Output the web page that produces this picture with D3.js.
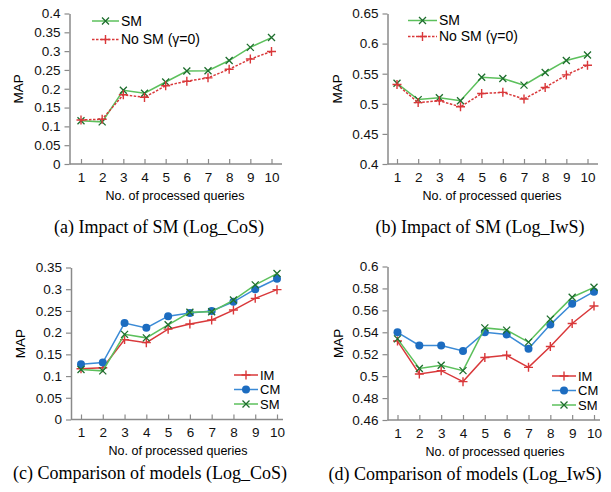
<!DOCTYPE html>
<html lang="en">
  <head>
    <meta charset="UTF-8" />
    <title>MAP vs processed queries</title>
    <script src="https://d3js.org/d3.v7.min.js"></script>
    <style>
      body { margin: 0; background: #fff; }
      .tick text { font-family: "Liberation Sans", Arial, sans-serif; font-size: 13.5px; fill: #111; }
    </style>
  </head>
  <body>
    <div id="chart"></div>
    <script>
      const queries = ["1", "2", "3", "4", "5", "6", "7", "8", "9", "10"];

      // Log_CoS
      const cosSM = [0.115, 0.112, 0.196, 0.188, 0.218, 0.247, 0.248, 0.275, 0.310, 0.336];
      const cosIM = [0.117, 0.119, 0.184, 0.177, 0.208, 0.220, 0.229, 0.252, 0.279, 0.299];
      const cosCM = [0.127, 0.131, 0.222, 0.211, 0.238, 0.245, 0.250, 0.271, 0.300, 0.324];

      // Log_IwS
      const iwsSM = [0.534, 0.507, 0.510, 0.505, 0.544, 0.542, 0.531, 0.552, 0.572, 0.581];
      const iwsIM = [0.532, 0.502, 0.505, 0.495, 0.517, 0.519, 0.508, 0.527, 0.548, 0.564];
      const iwsCM = [0.540, 0.528, 0.528, 0.523, 0.540, 0.538, 0.525, 0.547, 0.566, 0.577];

      const ticksA = [0, 0.05, 0.1, 0.15, 0.2, 0.25, 0.3, 0.35, 0.4];
      const ticksB = [0.4, 0.45, 0.5, 0.55, 0.6, 0.65];
      const ticksC = [0, 0.05, 0.1, 0.15, 0.2, 0.25, 0.3, 0.35];
      const ticksD = [0.46, 0.48, 0.5, 0.52, 0.54, 0.56, 0.58, 0.6];

      const green = "#5cc05c", greenMark = "#1e6e2e";
      const red = "#d9383a";
      const blue = "#3a8ad6", blueMark = "#1c6cc0";
      const sans = "Liberation Sans, Arial, sans-serif";

      const svg = d3.select("#chart").append("svg")
        .attr("width", 611).attr("height", 492);

      function drawPanel(p) {
        const g = svg.append("g");
        const y = d3.scaleLinear().domain([p.ticks[0], p.ticks[p.ticks.length - 1]]).range([p.bottom, p.top]);
        const x = d3.scalePoint().domain(queries).range([p.x1, p.x10]);

        // y axis
        const ya = g.append("g").attr("transform", `translate(${p.axX},0)`)
          .call(d3.axisLeft(y).tickValues(p.ticks).tickSize(5).tickSizeOuter(0).tickPadding(4)
            .tickFormat(d => String(+d.toFixed(2))));
        ya.select(".domain").attr("stroke", "#8a8a8a").attr("stroke-width", 1.5);
        ya.selectAll(".tick line").attr("stroke", "#8a8a8a").attr("stroke-width", 1.2);

        // x axis
        const xa = g.append("g").attr("transform", `translate(0,${p.bottom})`)
          .call(d3.axisBottom(x).tickSize(-5).tickSizeOuter(0).tickPadding(8));
        xa.select(".domain").remove();
        xa.selectAll(".tick line").attr("stroke", "#8a8a8a").attr("stroke-width", 1.2);
        xa.selectAll(".tick text").attr("dy", "0.71em");
        g.append("line")
          .attr("x1", p.axX).attr("x2", p.axR)
          .attr("y1", p.bottom).attr("y2", p.bottom)
          .attr("stroke", "#8a8a8a").attr("stroke-width", 1.5);

        // titles
        g.append("text")
          .attr("x", p.xTitleX).attr("y", p.bottom + 35.5)
          .attr("text-anchor", "middle")
          .style("font-family", sans).style("font-size", "12.5px")
          .text("No. of processed queries");
        g.append("text")
          .attr("transform", `translate(${p.yTitleX},${(p.top + p.bottom) / 2}) rotate(-90)`)
          .attr("text-anchor", "middle").attr("dy", "0.35em")
          .style("font-family", sans).style("font-size", "13.5px")
          .text("MAP");
        g.append("text")
          .attr("x", p.capX).attr("y", p.bottom + p.capDy)
          .attr("text-anchor", "middle")
          .style("font-family", "Liberation Serif, Times New Roman, serif").style("font-size", "18px")
          .text(p.caption);

        // series
        const line = d3.line().x((d, i) => x(queries[i])).y(d => y(d));
        p.series.forEach(s => {
          g.append("path").datum(s.values)
            .attr("d", line).attr("fill", "none")
            .attr("stroke", s.color).attr("stroke-width", 1.5)
            .attr("stroke-dasharray", s.dash || null);
          s.values.forEach((v, i) => marker(g, s, x(queries[i]), y(v)));
        });

        // legend
        p.series.forEach((s, k) => {
          const ly = p.legY + k * p.legStep;
          g.append("line")
            .attr("x1", p.legX).attr("x2", p.legX + p.legLen)
            .attr("y1", ly).attr("y2", ly)
            .attr("stroke", s.color).attr("stroke-width", 1.5)
            .attr("stroke-dasharray", s.dash || null);
          marker(g, s, p.legX + p.legLen / 2, ly);
          g.append("text")
            .attr("x", p.legX + p.legLen + 2).attr("y", ly).attr("dy", "0.35em")
            .style("font-family", sans).style("font-size", p.legFont)
            .text(s.name);
        });
      }

      function marker(g, s, cx, cy) {
        const r = 3.5;
        if (s.shape === "x") {
          g.append("path")
            .attr("d", `M${cx - r},${cy - r}L${cx + r},${cy + r}M${cx - r},${cy + r}L${cx + r},${cy - r}`)
            .attr("stroke", s.mark).attr("stroke-width", 1.3);
        } else if (s.shape === "+") {
          g.append("path")
            .attr("d", `M${cx - r - 1},${cy}L${cx + r + 1},${cy}M${cx},${cy - r - 1}L${cx},${cy + r + 1}`)
            .attr("stroke", s.mark).attr("stroke-width", 1.4);
        } else {
          g.append("circle").attr("cx", cx).attr("cy", cy).attr("r", 4)
            .attr("fill", s.mark);
        }
      }

      const smSeries = v => ({ name: "SM", values: v, color: green, mark: greenMark, shape: "x" });
      const noSmSeries = v => ({ name: "No SM (\u03b3=0)", values: v, color: red, mark: red, shape: "+", dash: "2.5,1.5" });
      const imSeries = v => ({ name: "IM", values: v, color: red, mark: red, shape: "+" });
      const cmSeries = v => ({ name: "CM", values: v, color: blue, mark: blueMark, shape: "o" });

      drawPanel({
        ticks: ticksA, top: 13.5, bottom: 164, axX: 69.5, axR: 282, x1: 81, x10: 271.5,
        xTitleX: 175, yTitleX: 18, capX: 159, capDy: 69, caption: "(a) Impact of SM (Log_CoS)",
        series: [smSeries(cosSM), noSmSeries(cosIM)],
        legX: 92, legLen: 27, legY: 21, legStep: 18.5, legFont: "14px"
      });
      drawPanel({
        ticks: ticksB, top: 13.5, bottom: 164, axX: 387.5, axR: 598, x1: 397, x10: 587.5,
        xTitleX: 492, yTitleX: 337, capX: 480, capDy: 69, caption: "(b) Impact of SM (Log_IwS)",
        series: [smSeries(iwsSM), noSmSeries(iwsIM)],
        legX: 408, legLen: 29, legY: 20.5, legStep: 16, legFont: "14px"
      });
      drawPanel({
        ticks: ticksC, top: 267.5, bottom: 419.5, axX: 71, axR: 283, x1: 81, x10: 277,
        xTitleX: 178, yTitleX: 20, capX: 150, capDy: 59.5, caption: "(c) Comparison of models (Log_CoS)",
        series: [imSeries(cosIM), cmSeries(cosCM), smSeries(cosSM)],
        legX: 234, legLen: 24, legY: 375, legStep: 14.5, legFont: "13px"
      });
      drawPanel({
        ticks: ticksD, top: 266.5, bottom: 420, axX: 387.5, axR: 600, x1: 397.5, x10: 594,
        xTitleX: 495, yTitleX: 338, capX: 465, capDy: 59.5, caption: "(d) Comparison of models (Log_IwS)",
        series: [imSeries(iwsIM), cmSeries(iwsCM), smSeries(iwsSM)],
        legX: 552, legLen: 24, legY: 376, legStep: 14.5, legFont: "13px"
      });
    </script>
  </body>
</html>
